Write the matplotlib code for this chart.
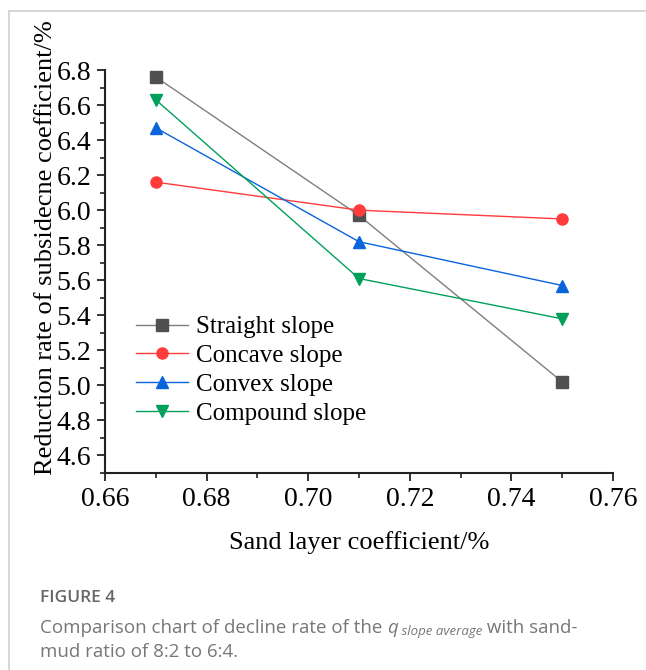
import matplotlib
matplotlib.use("Agg")
import matplotlib.pyplot as plt
from matplotlib.ticker import MultipleLocator
from matplotlib.lines import Line2D

x = [0.67, 0.71, 0.75]
straight = [6.76, 5.97, 5.02]
concave = [6.16, 6.00, 5.95]
convex = [6.47, 5.82, 5.57]
compound = [6.63, 5.61, 5.38]
labels = ["Straight slope", "Concave slope", "Convex slope", "Compound slope"]
xticks = [0.66, 0.68, 0.70, 0.72, 0.74, 0.76]
yticks = [4.6, 4.8, 5.0, 5.2, 5.4, 5.6, 5.8, 6.0, 6.2, 6.4, 6.6, 6.8]

plt.rcParams["font.family"] = ["Liberation Serif", "DejaVu Serif"]

W, H = 646, 670
fig = plt.figure(figsize=(W/100, H/100), dpi=100)
sans = ["Open Sans", "DejaVu Sans"]
serif = "Liberation Serif"

# page frame
fig.add_artist(Line2D([9/W, 1], [1-11/H, 1-11/H], color="#d0d0d0", lw=1.2))
fig.add_artist(Line2D([9/W, 9/W], [0, 1-11/H], color="#d0d0d0", lw=1.2))

ax = fig.add_axes([105/W, 1-473/H, (613-105)/W, (473-70)/H])
series = [
    (straight, "#505050", "#7f7f7f", "s"),
    (concave, "#ff3b3b", "#ff3b3b", "o"),
    (convex, "#0a64dc", "#0a64dc", "^"),
    (compound, "#00a05a", "#00a05a", "v"),
]
for (ys, mc, lc, m), lab in zip(series, labels):
    ax.plot(x, ys, color=lc, lw=1.0, marker=m, markersize=8,
            markerfacecolor=mc, markeredgecolor=mc, label=lab)

ax.set_xlim(0.66, 0.76)
ax.set_ylim(4.5, 6.8)
ax.set_xticks(xticks)
ax.set_xticklabels([f"{v:.2f}" for v in xticks], fontfamily=serif, fontsize=20)
ax.set_yticks(yticks)
ax.set_yticklabels([f"{v:.1f}" for v in yticks], fontfamily=serif, fontsize=20)
ax.xaxis.set_minor_locator(MultipleLocator(0.01))
ax.yaxis.set_minor_locator(MultipleLocator(0.1))
for s in ["top", "right"]:
    ax.spines[s].set_visible(False)
for s in ["left", "bottom"]:
    ax.spines[s].set_linewidth(1.5)
    ax.spines[s].set_color("#222222")
ax.tick_params(which="major", direction="out", length=6, width=1.3, color="#222222",
               pad=4)
ax.tick_params(which="minor", direction="out", length=3.5, width=1.2, color="#222222")

ax.set_xlabel("Sand layer coefficient/%", fontsize=19, labelpad=14)
ax.set_ylabel("Reduction rate of subsidecne coefficient/%", fontsize=19)
ax.yaxis.set_label_coords(-0.095, 0.56)

leg = ax.legend(loc="upper left", bbox_to_anchor=(0.042, 0.415), frameon=False,
                prop={"size": 18}, handlelength=2.05,
                labelspacing=0.25, handletextpad=0.35, borderaxespad=0)

fig.text(40/W, 1-598/H, "FIGURE 4", fontsize=12.5, color="#666666",
         family=sans, weight="semibold", va="center")

# caption line 1 built from plain text pieces
renderer = fig.canvas.get_renderer()
cap_color = "#777777"
pieces = [
    ("Comparison chart of decline rate of the ", 13.5, "normal", 0),
    ("q", 13.5, "italic", 0),
    (" slope average", 9.5, "italic", -4),
    (" with sand-", 13.5, "normal", 0),
]
xpos = 40
for txt, fs, style, dy in pieces:
    t = fig.text(xpos/W, (H-628+dy)/H, txt, fontsize=fs, color=cap_color,
                 family=sans, style=style, va="center")
    bb = t.get_window_extent(renderer=renderer)
    xpos += bb.width
fig.text(40/W, 1-652/H, "mud ratio of 8:2 to 6:4.", fontsize=13.5, color=cap_color,
         family=sans, va="center")

fig.savefig("out.png", dpi=100)
